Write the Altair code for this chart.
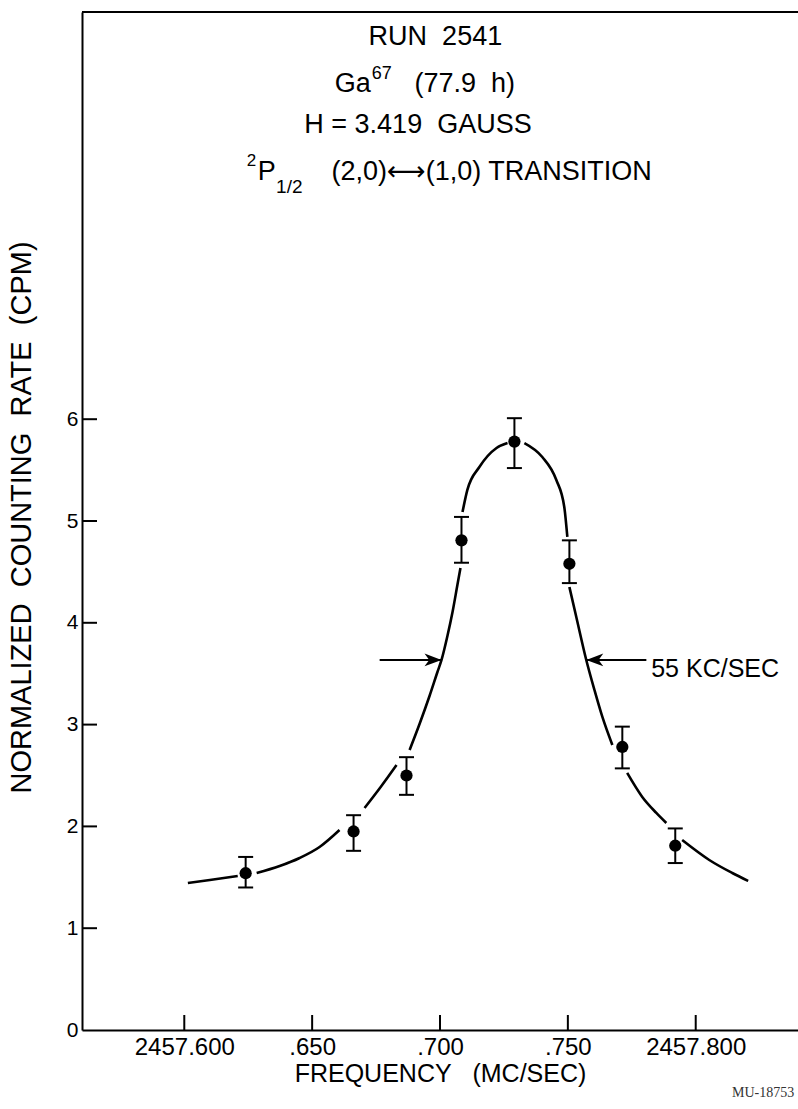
import altair as alt
import pandas as pd

# ---------------- data ----------------
X_MIN, X_MAX = 2457.56, 2457.84
Y_MIN, Y_MAX = 0, 10

x_ticks = [2457.60, 2457.65, 2457.70, 2457.75, 2457.80]
x_tick_labels = ["2457.600", ".650", ".700", ".750", "2457.800"]
y_ticks = [0, 1, 2, 3, 4, 5, 6]

pt_freq = [2457.6240, 2457.6662, 2457.6869, 2457.7084, 2457.7291, 2457.7506, 2457.7713, 2457.7920]
pt_rate = [1.54, 1.95, 2.50, 4.81, 5.78, 4.58, 2.78, 1.81]
pt_hi = [1.70, 2.11, 2.68, 5.04, 6.01, 4.81, 2.98, 1.98]
pt_lo = [1.40, 1.76, 2.31, 4.59, 5.52, 4.39, 2.57, 1.64]

curve_freq = [
    [2457.6014, 2457.6100, 2457.6209],
    [2457.6283, 2457.6373, 2457.6451, 2457.6529, 2457.6607],
    [2457.6705, 2457.6768, 2457.6830],
    [2457.6881, 2457.6920, 2457.6959, 2457.6990, 2457.7006, 2457.7029, 2457.7049, 2457.7068, 2457.7080],
    [2457.7088, 2457.7107, 2457.7154, 2457.7221, 2457.7264],
    [2457.7330, 2457.7400, 2457.7455, 2457.7486, 2457.7498],
    [2457.7506, 2457.7533, 2457.7572, 2457.7604, 2457.7635, 2457.7674],
    [2457.7732, 2457.7791, 2457.7846, 2457.7885],
    [2457.7947, 2457.8053, 2457.8143, 2457.8205],
]
curve_rate = [
    [1.444, 1.473, 1.513],
    [1.542, 1.611, 1.690, 1.798, 1.965],
    [2.181, 2.387, 2.603],
    [2.750, 3.006, 3.281, 3.517, 3.635, 3.870, 4.106, 4.371, 4.538],
    [5.088, 5.305, 5.530, 5.717, 5.766],
    [5.766, 5.629, 5.403, 5.138, 4.843],
    [4.352, 4.057, 3.635, 3.340, 3.075, 2.800],
    [2.525, 2.289, 2.132, 2.033],
    [1.866, 1.670, 1.542, 1.464],
]

# half-width arrows (55 KC/SEC)
arrow_rate = 3.635
arrow_left = [2457.6764, 2457.7006]   # tail, tip
arrow_right = [2457.7807, 2457.7572]  # tail, tip

FONT = "Liberation Sans"
SP = "\u00a0"

# ---------------- tables ----------------
curve_df = pd.DataFrame(
    [{"freq": f, "rate": r, "seg": i}
     for i, (fs, rs) in enumerate(zip(curve_freq, curve_rate)) for f, r in zip(fs, rs)]
)
pts_df = pd.DataFrame({"freq": pt_freq, "rate": pt_rate})
bars_df = pd.DataFrame({"freq": pt_freq, "rate": pt_lo, "rate2": pt_hi})
caps_df = pd.DataFrame({"freq": pt_freq * 2, "rate": pt_lo + pt_hi})
xt_df = pd.DataFrame({"freq": x_ticks, "rate": [Y_MIN] * len(x_ticks)})
yt_df = pd.DataFrame({"freq": [X_MIN] * (len(y_ticks) - 1), "rate": y_ticks[1:]})
top_df = pd.DataFrame({"freq": [X_MIN], "freq2": [X_MAX], "rate": [Y_MAX]})
shaft_df = pd.DataFrame({"freq": [arrow_left[0], arrow_right[0]],
                         "freq2": [arrow_left[1], arrow_right[1]],
                         "rate": [arrow_rate, arrow_rate]})

xs = alt.Scale(domain=[X_MIN, X_MAX], nice=False, zero=False)
ys = alt.Scale(domain=[Y_MIN, Y_MAX], nice=False, zero=False)

label_expr = ""
for v, l in zip(x_ticks, x_tick_labels):
    label_expr += f"abs(datum.value - {v}) < 0.001 ? '{l}' : "
label_expr += "''"

x_axis = alt.Axis(
    values=x_ticks, labelExpr=label_expr, ticks=False, grid=False,
    domainColor="black", domainWidth=2, labelFont=FONT, labelFontSize=24,
    labelColor="black", labelPadding=5, labelFlush=False, labelOverlap=False,
    title=f"FREQUENCY{SP*3}(MC/SEC)", titleFont=FONT, titleFontSize=25,
    titleFontWeight="normal", titleColor="black",
    titleX=358, titleY=43, titleAlign="center", titleBaseline="middle",
)
y_axis = alt.Axis(
    values=y_ticks, ticks=False, grid=False, domainColor="black", domainWidth=2,
    labelFont=FONT, labelFontSize=21, labelColor="black", labelPadding=4,
    labelFlush=False, labelOverlap=False,
    title=f"NORMALIZED{SP*2}COUNTING{SP*2}RATE{SP*2}(CPM)", titleFont=FONT,
    titleFontSize=29, titleFontWeight="normal", titleColor="black", titleAngle=270,
    titleX=-61, titleY=505, titleAlign="center", titleBaseline="middle",
)

X = alt.X("freq:Q", scale=xs, axis=x_axis)
Y = alt.Y("rate:Q", scale=ys, axis=y_axis)

curve = alt.Chart(curve_df).mark_line(
    color="black", strokeWidth=2.6, interpolate="monotone"
).encode(x=X, y=Y, detail="seg:N")

bars = alt.Chart(bars_df).mark_rule(color="black", strokeWidth=2).encode(
    x=X, y=Y, y2="rate2:Q"
)
caps = alt.Chart(caps_df).mark_tick(
    color="black", orient="horizontal", size=15, thickness=2, opacity=1
).encode(x=X, y=Y)
points = alt.Chart(pts_df).mark_point(
    filled=True, color="black", size=150, opacity=1
).encode(x=X, y=Y)

xticks = alt.Chart(xt_df).mark_tick(
    color="black", orient="vertical", size=15, thickness=2, yOffset=-7.5, opacity=1
).encode(x=X, y=Y)
yticks = alt.Chart(yt_df).mark_tick(
    color="black", orient="horizontal", size=15, thickness=2, xOffset=7.5, opacity=1
).encode(x=X, y=Y)
top_line = alt.Chart(top_df).mark_rule(color="black", strokeWidth=2).encode(
    x=X, x2="freq2:Q", y=Y
)

shafts = alt.Chart(shaft_df).mark_rule(color="black", strokeWidth=2).encode(
    x=X, x2="freq2:Q", y=Y
)
head_r = alt.Chart(pd.DataFrame({"freq": [arrow_left[1]], "rate": [arrow_rate]})).mark_point(
    shape="M 1 0 L -1 -0.75 L -0.45 0 L -1 0.75 Z", filled=True, color="black",
    size=289, opacity=1, xOffset=-8.5
).encode(x=X, y=Y)
head_l = alt.Chart(pd.DataFrame({"freq": [arrow_right[1]], "rate": [arrow_rate]})).mark_point(
    shape="M -1 0 L 1 -0.75 L 0.45 0 L 1 0.75 Z", filled=True, color="black",
    size=289, opacity=1, xOffset=8.5
).encode(x=X, y=Y)


def label(txt, f, r, size, align="left", font=FONT, color="black"):
    return alt.Chart(pd.DataFrame({"freq": [f], "rate": [r], "t": [txt]})).mark_text(
        font=font, fontSize=size, align=align, baseline="alphabetic", color=color
    ).encode(x=X, y=Y, text="t:N")


texts = [
    label(f"RUN{SP*2}2541", 2457.6982, 9.676, 27, "center"),
    label("Ga", 2457.6588, 9.214, 27),
    label("67", 2457.6733, 9.345, 18),
    label(f"(77.9{SP*2}h)", 2457.6900, 9.214, 27),
    label(f"H = 3.419{SP*2}GAUSS", 2457.6914, 8.811, 27, "center"),
    label("2", 2457.6244, 8.487, 17),
    label("P", 2457.6287, 8.350, 27),
    label("1/2", 2457.6359, 8.222, 19),
    label("(2,0)\u27f7(1,0) TRANSITION", 2457.6576, 8.350, 27, "left",
          "Liberation Sans, DejaVu Sans"),
    label("55 KC/SEC", 2457.7826, 3.470, 25),
    label("MU-18753", 2457.8385, -0.66, 14, "right", "Liberation Serif", "#333333"),
]

chart = alt.layer(
    curve, bars, caps, points, xticks, yticks, top_line, shafts, head_r, head_l, *texts
).properties(
    width=716, height=1018,
    autosize=alt.AutoSizeParams(type="none"),
    padding={"left": 82, "top": 12, "right": 0, "bottom": 79},
).configure_view(stroke=None).configure(background="white")

chart.save("out.html", embed_options={"renderer": "svg", "actions": False})
